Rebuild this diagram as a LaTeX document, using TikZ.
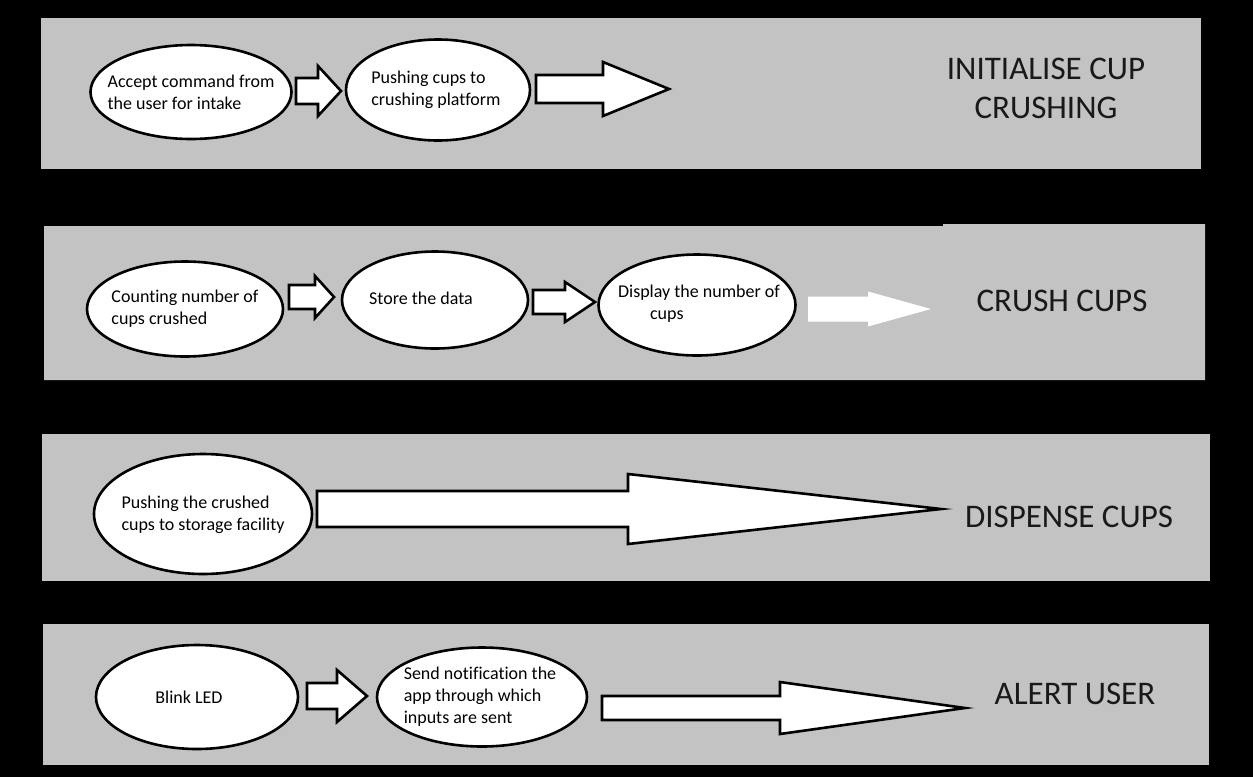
\documentclass[tikz,border=0pt]{standalone}
\usepackage{fontspec}
\setmainfont{Carlito}[Ligatures=NoCommon]
\usetikzlibrary{shapes.geometric}
\definecolor{panelgray}{RGB}{195,195,195}
\newcommand\blkarrow[7]{%
  \path[#1] ({#2},{#5-#6}) -- ({#3},{#5-#6}) -- ({#3},{#5-#7}) -- ({#4},{#5})
    -- ({#3},{#5+#7}) -- ({#3},{#5+#6}) -- ({#2},{#5+#6}) -- cycle;}
\begin{document}
\begin{tikzpicture}[x=1pt,y=-1pt,
  panel/.style={fill=panelgray,draw=none},
  oval/.style={ellipse,draw=black,line width=2.6pt,fill=white,inner sep=0pt},
  ovaltext/.style={font=\fontsize{18}{22}\selectfont,align=left,inner sep=0pt},
  outlined/.style={draw=black,line width=2.6pt,fill=white,line join=miter},
  plainarrow/.style={fill=white,draw=none},
  title/.style={font=\fontsize{33}{39}\selectfont,align=center,text=black!90}]
\fill[black] (0,0) rectangle (1253,777);
\useasboundingbox (0,0) rectangle (1253,777);
% panels
\path[panel] (41,18) rectangle (1201,169);
\path[panel] (44,226) -- (943,226) -- (943,224) -- (1205,224) -- (1205,380) -- (44,380) -- cycle;
\path[panel] (42,434) rectangle (1210,581);
\path[panel] (43,624) rectangle (1209,765);
% row 1
\node[oval,minimum width=201pt,minimum height=94pt] (e1) at (191,92) {};
\node[ovaltext] (e1t) at (e1.center) {Accept command from\\the user for intake};
\node[oval,minimum width=184pt,minimum height=101pt] (e2) at (438,90) {};
\node[ovaltext] (e2t) at (436,90) {Pushing cups to\\crushing platform};
\blkarrow{outlined}{296}{318}{341}{91}{13}{25}
\blkarrow{outlined}{536}{603}{669}{89}{14}{27}
\node[title] (t1) at (1046,88) {INITIALISE CUP\\CRUSHING};
% row 2
\node[oval,minimum width=196pt,minimum height=95pt] (e3) at (185,309) {};
\node[ovaltext] (e3t) at (e3.center) {Counting number of\\cups crushed};
\node[oval,minimum width=186pt,minimum height=97pt] (e4) at (435,300) {};
\node[ovaltext] (e4t) at (421,300) {Store the data\vphantom{g}};
\node[oval,minimum width=197pt,minimum height=101pt] (e5) at (697,305) {};
\node[ovaltext] (e5t) at (699,304) {Display the number of\\\hspace{32pt}cups};
\blkarrow{outlined}{289}{315}{334}{297}{12}{21}
\blkarrow{outlined}{533}{565}{595}{302}{12}{20}
\blkarrow{plainarrow}{808}{868}{931}{309}{12.5}{17.5}
\node[title] (t2) at (1062,301) {CRUSH CUPS};
% row 3
\node[oval,minimum width=218pt,minimum height=120pt] (e6) at (203,514) {};
\node[ovaltext] (e6t) at (203,515) {Pushing the crushed\\cups to storage facility};
\blkarrow{outlined}{317}{628}{941}{509}{18}{35}
\node[title] (t3) at (1069,517) {DISPENSE CUPS};
% row 4
\node[oval,minimum width=202pt,minimum height=104pt] (e7) at (197,697) {};
\node[ovaltext] (e7t) at (189,697) {Blink LED};
\node[oval,minimum width=210pt,minimum height=99pt] (e8) at (482,697) {};
\node[ovaltext] (e8t) at (480,697) {Send notification the\\app through which\\inputs are sent};
\blkarrow{outlined}{307}{337}{367}{696}{13}{26}
\blkarrow{outlined}{602}{780}{965}{708}{12}{26}
\node[title] (t4) at (1075,694) {ALERT USER};
\end{tikzpicture}
\end{document}
